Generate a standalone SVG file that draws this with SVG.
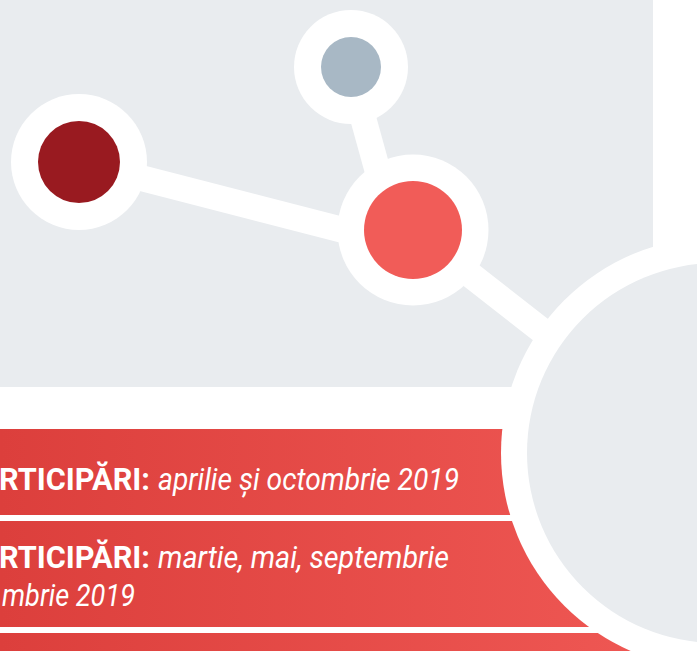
<svg xmlns="http://www.w3.org/2000/svg" width="697" height="651" viewBox="0 0 697 651">
  <defs>
    <linearGradient id="bandGrad" x1="0" y1="0" x2="697" y2="0" gradientUnits="userSpaceOnUse">
      <stop offset="0" stop-color="#dc3f3c"/>
      <stop offset="1" stop-color="#f05955"/>
    </linearGradient>
    <style>
      .panel { fill: #e9ecef; }
      .band { fill: url(#bandGrad); }
      .link { stroke: #ffffff; stroke-width: 26; fill: none; }
      .ring { fill: #ffffff; }
      .bold { font-family: Roboto, "Liberation Sans", sans-serif; font-weight: 700; font-size: 31px; fill: #ffffff; }
      .ital { font-family: Roboto, "Liberation Sans", sans-serif; font-style: italic; font-weight: 400; font-size: 31px; fill: #ffffff; }
    </style>
  </defs>

  <rect width="697" height="651" fill="#ffffff"/>
  <rect class="panel" x="0" y="0" width="653" height="387"/>

  <g id="bands">
    <rect class="band" x="0" y="429" width="697" height="86"/>
    <rect class="band" x="0" y="521" width="697" height="106"/>
    <rect class="band" x="0" y="633" width="697" height="18"/>
  </g>

  <g id="connectors">
    <line class="link" x1="79" y1="162" x2="413" y2="248"/>
    <line class="link" x1="349" y1="67" x2="394" y2="230"/>
    <line class="link" x1="413" y1="230" x2="600" y2="376"/>
  </g>

  <g id="node-dark">
    <circle class="ring" cx="79" cy="162" r="68"/>
    <circle cx="79" cy="162" r="41" fill="#991a20"/>
  </g>
  <g id="node-blue">
    <circle class="ring" cx="351" cy="67" r="57"/>
    <circle cx="351" cy="67" r="30" fill="#a8b8c5"/>
  </g>
  <g id="node-coral">
    <circle class="ring" cx="413" cy="230" r="75.5"/>
    <circle cx="413" cy="230" r="49" fill="#f15c58"/>
  </g>
  <g id="node-big">
    <circle class="ring" cx="717" cy="453" r="216"/>
    <circle class="panel" cx="717" cy="453" r="190"/>
  </g>

  <g id="texts">
    <text class="bold" x="-1" y="489.5" textLength="151" lengthAdjust="spacingAndGlyphs">RTICIPĂRI:</text>
    <text class="ital" x="158" y="489.5" textLength="301" lengthAdjust="spacingAndGlyphs">aprilie și octombrie 2019</text>
    <text class="bold" x="-1" y="568" textLength="151" lengthAdjust="spacingAndGlyphs">RTICIPĂRI:</text>
    <text class="ital" x="158" y="568" textLength="291" lengthAdjust="spacingAndGlyphs">martie, mai, septembrie</text>
    <text class="ital" x="2" y="605.5" textLength="133" lengthAdjust="spacingAndGlyphs">mbrie 2019</text>
  </g>
</svg>
